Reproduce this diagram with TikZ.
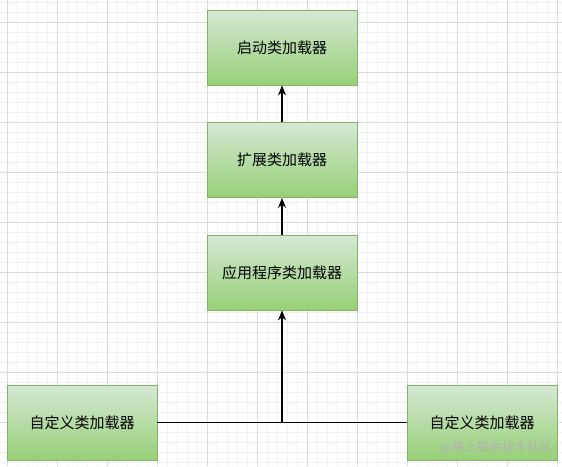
\documentclass[tikz,border=0pt]{standalone}
\usepackage{fontspec}
\setmainfont{Noto Sans CJK SC}
\usetikzlibrary{arrows.meta}
\definecolor{gtop}{HTML}{D5E8D4}
\definecolor{gbot}{HTML}{97D077}
\definecolor{gline}{HTML}{82B366}
\definecolor{minorg}{HTML}{F1F1F1}
\definecolor{majorg}{HTML}{DADADA}
\tikzset{
  loader/.style={draw=gline, line width=0.8pt, top color=gtop, bottom color=gbot,
    minimum width=150pt, minimum height=75pt, inner sep=0pt, font=\fontsize{15pt}{17pt}\selectfont, text=black},
  conn/.style={line width=1.2pt, black},
  arr/.style={conn, -{Stealth[length=10pt,width=8pt]}}
}
\begin{document}
\begin{tikzpicture}[x=1pt,y=-1pt]
\useasboundingbox (0,0) rectangle (562,466);
\fill[white] (0,0) rectangle (562,466);
% minor grid
\foreach \x in {-3,7,...,567} \draw[minorg, line width=0.6pt] (\x,0) -- (\x,466);
\foreach \y in {2,12,...,466} \draw[minorg, line width=0.6pt] (0,\y) -- (562,\y);
% major grid
\foreach \x in {7,57,...,557} \draw[majorg, line width=0.7pt] (\x,0) -- (\x,466);
\foreach \y in {22,72,...,466} \draw[majorg, line width=0.7pt] (0,\y) -- (562,\y);
% boxes
\node[loader] (boot) at (282,47.5) {启动类加载器};
\node[loader] (ext) at (282,160) {扩展类加载器};
\node[loader] (app) at (282,272.5) {应用程序类加载器};
\node[loader] (cl1) at (82,422.5) {自定义类加载器};
\node[loader] (cl2) at (482,422.5) {自定义类加载器};
\coordinate (join) at (282,422.5);
% connectors
\draw[arr] (ext) -- (boot);
\draw[arr] (app) -- (ext);
\draw[conn] (cl1) -- (cl2);
\draw[arr] (join) -- (app);
% watermark
\node[text=black!30, font=\fontsize{12.5pt}{14pt}\selectfont, anchor=center] (wm) at (496,447) {@稀土掘金技术社区};
\end{tikzpicture}
\end{document}
